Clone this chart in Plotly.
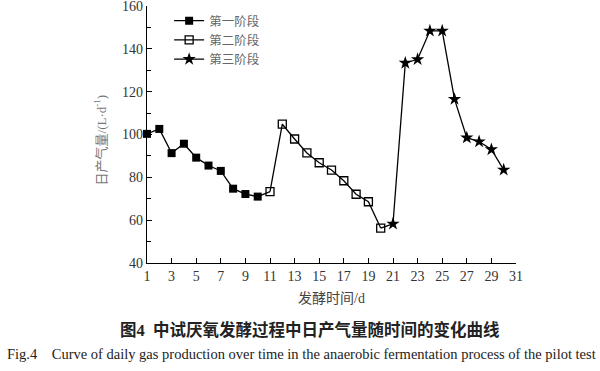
import plotly.graph_objects as go

days_stage1 = [1, 2, 3, 4, 5, 6, 7, 8, 9, 10]
gas_stage1 = [100.3, 102.6, 91.3, 95.7, 89.2, 85.5, 83.0, 74.7, 72.2, 71.0]
days_stage2 = [11, 12, 13, 14, 15, 16, 17, 18, 19, 20]
gas_stage2 = [73.3, 104.8, 97.9, 91.4, 86.8, 83.4, 78.4, 72.1, 68.6, 56.3]
days_stage3 = [21, 22, 23, 24, 25, 26, 27, 28, 29, 30]
gas_stage3 = [58.3, 133.4, 135.1, 148.4, 148.4, 116.5, 98.5, 96.7, 93.0, 83.5]
names = ["第一阶段", "第二阶段", "第三阶段"]
x_ticks = list(range(1, 32, 2))
y_ticks = [40, 60, 80, 100, 120, 140, 160]

SERIF = "Liberation Serif, Times New Roman, serif"
CJK = "Liberation Serif, Noto Sans CJK SC, sans-serif"

fig = go.Figure()
# connectors between stages
fig.add_trace(go.Scatter(
    x=[days_stage1[-1], days_stage2[0], None, days_stage2[-1], days_stage3[0]],
    y=[gas_stage1[-1], gas_stage2[0], None, gas_stage2[-1], gas_stage3[0]],
    mode="lines", line=dict(color="black", width=1.3), showlegend=False,
    hoverinfo="skip", cliponaxis=False))
fig.add_trace(go.Scatter(x=days_stage1, y=gas_stage1, name=names[0], mode="lines+markers",
                         line=dict(color="black", width=1.3),
                         marker=dict(symbol="square", size=8, color="black"), cliponaxis=False))
fig.add_trace(go.Scatter(x=days_stage2, y=gas_stage2, name=names[1], mode="lines+markers",
                         line=dict(color="black", width=1.3),
                         marker=dict(symbol="square-open", size=8, color="black", line=dict(width=1.3)),
                         cliponaxis=False))
fig.add_trace(go.Scatter(x=days_stage3, y=gas_stage3, name=names[2], mode="lines+markers",
                         line=dict(color="black", width=1.3),
                         marker=dict(symbol="star", size=10, color="black"), cliponaxis=False))

axis_common = dict(showgrid=False, zeroline=False, showline=True, linecolor="black", linewidth=1.3,
                   ticks="inside", tickcolor="black", ticklen=5, tickwidth=1,
                   automargin=False, ticklabeloverflow="allow",
                   tickfont=dict(family=SERIF, size=14, color="#333"))
fig.update_xaxes(range=[1, 31], tickvals=x_ticks, **axis_common)
fig.update_yaxes(range=[40, 160], tickvals=y_ticks,
                 minor=dict(dtick=10, ticks="inside", ticklen=4, tickcolor="black"), **axis_common)

fig.update_layout(
    width=600, height=371,
    margin=dict(l=147, r=84, t=6, b=108),
    plot_bgcolor="white", paper_bgcolor="white",
    legend=dict(x=0.06, y=1.0, xanchor="left", yanchor="top", bgcolor="rgba(0,0,0,0)",
                font=dict(family=CJK, size=12.5, color="#666"), tracegroupgap=0),
    annotations=[
        dict(text="日产气量/(L·d<sup>-1</sup>)", xref="paper", yref="paper", x=-0.155, y=0.48,
             textangle=-90, showarrow=False, font=dict(family=CJK, size=13, color="#777")),
        dict(text="发酵时间/d", xref="paper", yref="paper", x=0.5, y=-0.14, yanchor="middle",
             showarrow=False, font=dict(family=CJK, size=14, color="#444")),
        dict(text="<b>图4</b>  <b>中试厌氧发酵过程中日产气量随时间的变化曲线</b>", xref="paper", yref="paper",
             x=(310 - 147) / 369, y=-0.262, yanchor="middle", showarrow=False,
             font=dict(family=CJK, size=16.5, color="#222")),
        dict(text="Fig.4    Curve of daily gas production over time in the anaerobic fermentation process of the pilot test",
             xref="paper", yref="paper", x=(301 - 147) / 369, y=-0.356, yanchor="middle", showarrow=False,
             font=dict(family=SERIF, size=14.5, color="#222")),
    ],
)
fig.write_html("out.html", config={"displayModeBar": False},
               post_script="document.body.style.margin='0';document.body.style.overflow='hidden';")
